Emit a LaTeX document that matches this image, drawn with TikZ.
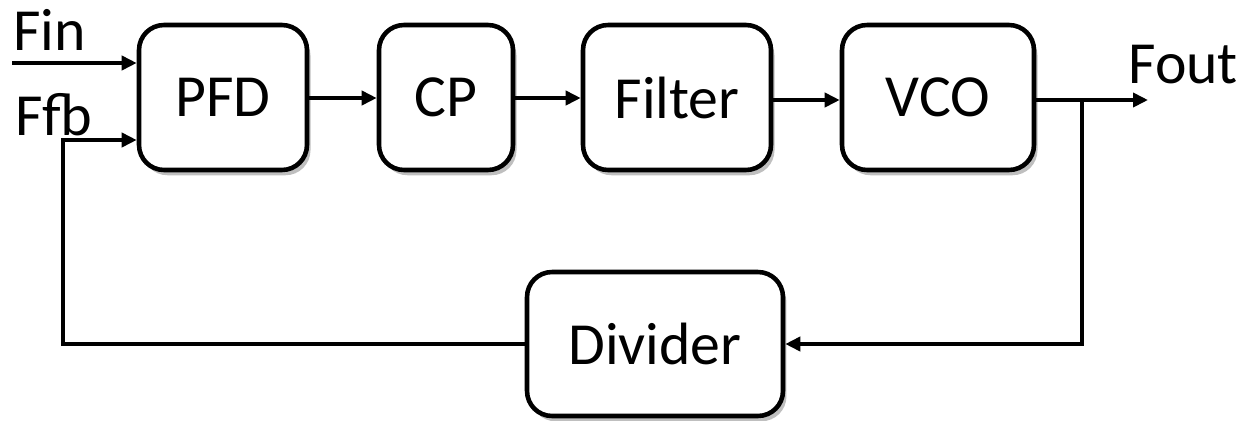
\documentclass[tikz,border=0pt]{standalone}
\usepackage{fontspec}
\setmainfont{Carlito}
\usetikzlibrary{arrows.meta,shadows}
\begin{document}
\begin{tikzpicture}[x=0.02cm,y=-0.02cm,
  font=\fontsize{34pt}{40pt}\selectfont,
  block/.style={draw,line width=2.6pt,rounded corners=0.5cm,fill=white,
    inner sep=0pt,
    drop shadow={shadow xshift=2pt,shadow yshift=-3pt,opacity=0.25,fill=black}},
  wire/.style={line width=2.1pt},
  sig/.style={wire,-{Triangle[length=0.3cm,width=0.28cm]}},
  lbl/.style={inner sep=0pt,anchor=base west}]
\useasboundingbox (0,0) rectangle (1244,420);

% forward path
\node[block,minimum width=3.36cm,minimum height=2.9cm] (pfd) at (223,97.5) {PFD};
\node[block,minimum width=2.68cm,minimum height=2.9cm] (cp) at (446,97.5) {CP};
\node[block,minimum width=3.76cm,minimum height=2.9cm] (flt) at (677,97.5) {Filter};
\node[block,minimum width=3.84cm,minimum height=2.9cm] (vco) at (938,97.5) {VCO};
% feedback path
\node[block,minimum width=5.12cm,minimum height=2.88cm] (div) at (655,344) {Divider};

% terminals
\coordinate (fin) at (12,63);
\coordinate (fout) at (1148,100);
\coordinate (tap) at (1082,100);
\coordinate (fbl) at (63,344);
\coordinate (fbt) at (63,140);

\node[lbl] (finl) at (13,50) {Fin};
\node[lbl] (ffbl) at (15,135) {Ffb};
\node[lbl] (foutl) at (1128,83) {Fout};

\draw[sig] (fin) -- (pfd.west |- fin);
\draw[sig] (pfd.east |- 0,98) -- (cp.west |- 0,98);
\draw[sig] (cp.east |- 0,98) -- (flt.west |- 0,98);
\draw[sig] (flt.east |- 0,100) -- (vco.west |- 0,100);
\draw[sig] (vco.east |- fout) -- (fout);
\draw[sig] (tap) -- (tap |- div.east) -- (div.east);
\draw[sig] (div.west) -- (fbl) -- (fbt) -- (pfd.west |- fbt);
\end{tikzpicture}
\end{document}
